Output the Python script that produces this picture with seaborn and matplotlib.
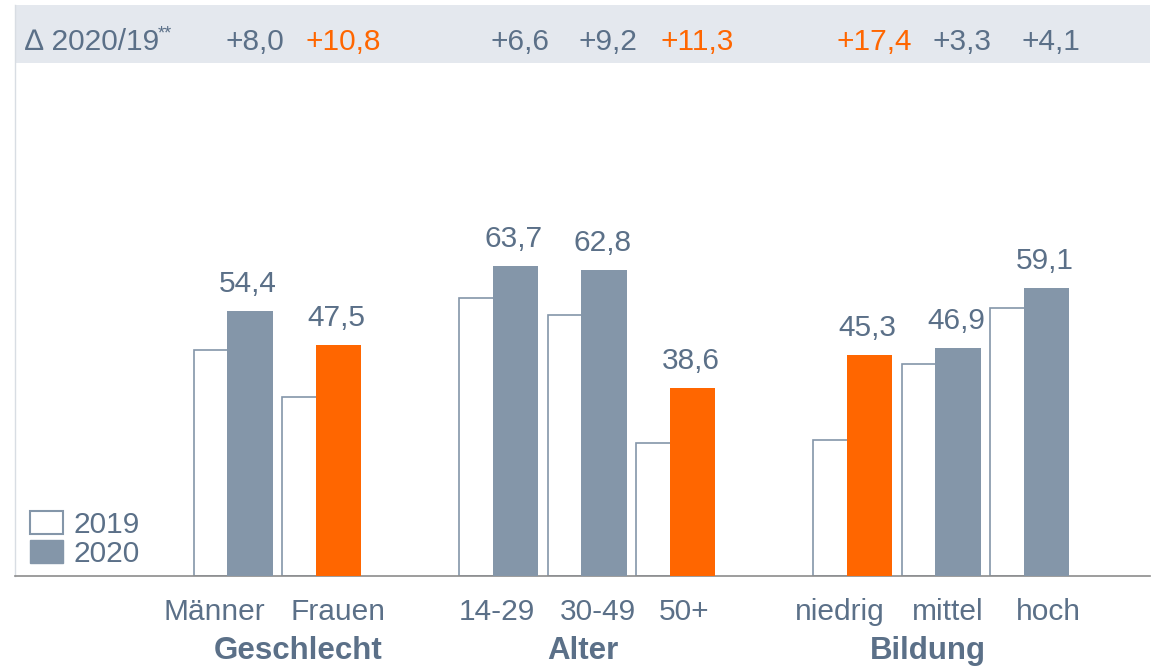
import numpy as np
import pandas as pd
import seaborn as sns
import matplotlib.pyplot as plt
import matplotlib.transforms as mtransforms
from matplotlib.patches import Patch

# data
categories = ["Männer", "Frauen", "14-29", "30-49", "50+", "niedrig", "mittel", "hoch"]
groups = ["Geschlecht", "Alter", "Bildung"]
values_2020 = [54.4, 47.5, 63.7, 62.8, 38.6, 45.3, 46.9, 59.1]
delta = [8.0, 10.8, 6.6, 9.2, 11.3, 17.4, 3.3, 4.1]
highlight = [False, True, False, False, True, True, False, False]
values_2019 = [round(a - b, 1) for a, b in zip(values_2020, delta)]

# layout (slot positions, label offsets)
slots = [0, 1, 3, 4, 5, 7, 8, 9]
offset_2019 = 0.38
label_shift = [-0.40, -0.01, -0.21, -0.07, -0.09, -0.33, -0.11, 0.02]
group_x = [0.54, 3.76, 7.66]

GREY = "#8496a9"
ORANGE = "#ff6600"
TEXT = "#5b7088"
BAND = "#e4e8ee"
FS = 21.5

sns.set_theme(style="white")
plt.rcParams["font.family"] = ["Liberation Sans", "DejaVu Sans"]

df = pd.DataFrame({
    "cat": categories,
    "pos": slots,
    "pos19": [s - offset_2019 for s in slots],
    "v2019": values_2019,
    "v2020": values_2020,
})

fig = plt.figure(figsize=(11.53, 6.67), dpi=100)
ax = fig.add_axes([15 / 1153, 1 - 576 / 667, 1135 / 1153, 571 / 667])
PX = 4.87  # pixels per unit on the y scale

sns.barplot(data=df, x="pos19", y="v2019", native_scale=True, width=0.51,
            color="white", edgecolor=GREY, linewidth=1.2, saturation=1,
            ax=ax, zorder=2)
n19 = len(ax.patches)
sns.barplot(data=df, x="pos", y="v2020", native_scale=True, width=0.51,
            color=GREY, saturation=1, linewidth=0, ax=ax, zorder=3)
for p, hl in zip(ax.patches[n19:], highlight):
    p.set_facecolor(ORANGE if hl else GREY)
    p.set_zorder(3)

ymax = (576 - 5) / PX
band_lo = (576 - 63) / PX
ax.set_ylim(0, ymax)
ax.set_xlim((15 - 250) / 88.5, (1150 - 250) / 88.5)
ax.axhspan(band_lo, ymax, color=BAND, zorder=0, lw=0)

# value labels on 2020 bars
for s, v in zip(slots, values_2020):
    ax.text(s - 0.02, v + 19 / PX, f"{v:.1f}".replace(".", ","), ha="center",
            va="baseline", fontsize=FS, color=TEXT)

# delta row
ty = (576 - 50) / PX
ax.text(-2.54, ty, "∆ 2020/19", ha="left", va="baseline", fontsize=FS, color=TEXT)
ax.text(-1.04, ty + 12 / PX, "**", ha="left", va="baseline", fontsize=13, color=TEXT)
for s, d, hl in zip(slots, delta, highlight):
    ax.text(s + 0.05, ty, "+" + f"{d:.1f}".replace(".", ","), ha="center",
            va="baseline", fontsize=FS, color=ORANGE if hl else TEXT)

# category and group labels
ax.set_xticks([])
ax.set_yticks([])
ax.set_xlabel("")
ax.set_ylabel("")
trans = mtransforms.blended_transform_factory(ax.transData, ax.transAxes)
for s, sh, c in zip(slots, label_shift, categories):
    ax.text(s + sh, -44 / 571, c, ha="center", va="baseline", fontsize=FS,
            color=TEXT, transform=trans, clip_on=False)
for gx, g in zip(group_x, groups):
    ax.text(gx, -83 / 571, g, ha="center", va="baseline", fontsize=22.5,
            fontweight="bold", color=TEXT, transform=trans, clip_on=False)

for side in ["top", "right"]:
    ax.spines[side].set_visible(False)
ax.spines["left"].set_color("#d8dde3")
ax.spines["left"].set_linewidth(1)
ax.spines["bottom"].set_color("#8c8c8c")
ax.spines["bottom"].set_linewidth(1.2)

handles = [Patch(facecolor="white", edgecolor=GREY, linewidth=1.5, label="2019"),
           Patch(facecolor=GREY, edgecolor=GREY, label="2020")]
leg = ax.legend(handles=handles, loc="lower left", bbox_to_anchor=(15 / 1135, 8 / 571),
                frameon=False, fontsize=FS, handlelength=1.1, handleheight=0.8,
                handletextpad=0.35, labelspacing=0.05, borderpad=0, borderaxespad=0)
for t in leg.get_texts():
    t.set_color(TEXT)

fig.savefig("out.png", dpi=100)
